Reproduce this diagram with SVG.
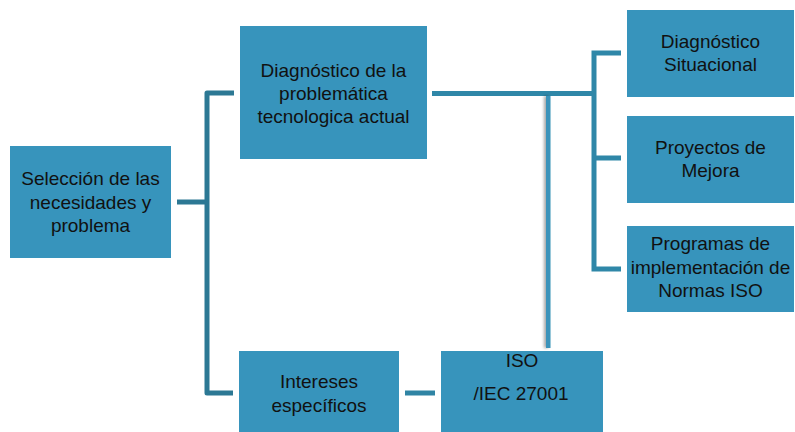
<svg xmlns="http://www.w3.org/2000/svg" width="795" height="432" viewBox="0 0 795 432">
<defs>
<style>
.box{fill:#3794bc;}
.t{font-family:"Liberation Sans",Arial,sans-serif;font-size:19px;fill:#111;text-anchor:middle;}
.dk{fill:none;stroke:#2c7894;stroke-width:5;stroke-linejoin:round;}
.lt{fill:none;stroke:#2f87a8;stroke-width:5;}
</style>
<filter id="sh" filterUnits="userSpaceOnUse" x="530" y="85" width="40" height="275">
<feGaussianBlur in="SourceAlpha" stdDeviation="1.5"/>
<feOffset dx="-2" dy="0" result="b"/>
<feComponentTransfer><feFuncA type="linear" slope="0.35"/></feComponentTransfer>
<feMerge><feMergeNode/><feMergeNode in="SourceGraphic"/></feMerge>
</filter>
</defs>
<rect width="795" height="432" fill="#fff"/>
<g id="connectors">
<path class="dk" d="M177 202 H207 M234 93 H207 V393 H233"/>
<path class="lt" d="M432 93.5 H596 M621 53 H594 V269 H621 M594 158 H621"/>
<rect x="546" y="96" width="4.5" height="252" fill="#3a93ba" filter="url(#sh)"/>
<line x1="405" y1="393" x2="435" y2="393" stroke="#2f84a4" stroke-width="5"/>
</g>
<g id="n1"><rect class="box" x="10" y="146" width="161" height="112"/>
<text class="t" x="90.5" y="185">Selección de las</text>
<text class="t" x="90.5" y="209">necesidades y</text>
<text class="t" x="90.5" y="232">problema</text></g>
<g id="n2"><rect class="box" x="240" y="26" width="187" height="133"/>
<text class="t" x="333.5" y="77">Diagnóstico de la</text>
<text class="t" x="333.5" y="100">problemática</text>
<text class="t" x="333.5" y="123">tecnologica actual</text></g>
<g id="n3"><rect class="box" x="627" y="10" width="167" height="87"/>
<text class="t" x="710.5" y="48">Diagnóstico</text>
<text class="t" x="710.5" y="71">Situacional</text></g>
<g id="n4"><rect class="box" x="627" y="116" width="167" height="87"/>
<text class="t" x="710.5" y="154">Proyectos de</text>
<text class="t" x="710.5" y="177">Mejora</text></g>
<g id="n5"><rect class="box" x="627" y="226" width="167" height="86"/>
<text class="t" x="710.5" y="250">Programas de</text>
<text class="t" x="710.5" y="274">implementación de</text>
<text class="t" x="710.5" y="297">Normas ISO</text></g>
<g id="n6"><rect class="box" x="239" y="351" width="160" height="81"/>
<text class="t" x="319" y="388">Intereses</text>
<text class="t" x="319" y="412">específicos</text></g>
<g id="n7"><rect class="box" x="441" y="351" width="162" height="81"/>
<text class="t" x="522" y="367">ISO</text>
<text class="t" x="521" y="400">/IEC 27001</text></g>
</svg>
